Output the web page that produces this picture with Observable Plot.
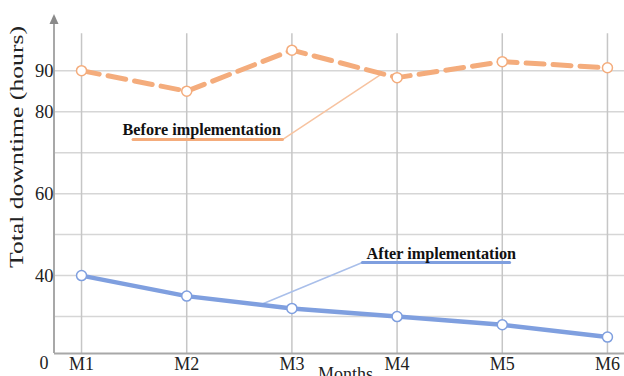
<!DOCTYPE html>
<html>
<head>
<meta charset="utf-8">
<script src="https://cdn.jsdelivr.net/npm/d3@7"></script>
<script src="https://cdn.jsdelivr.net/npm/@observablehq/plot@0.6"></script>
<style>
  html, body { margin: 0; padding: 0; background: #fff; }
  #chart svg { display: block; }
</style>
</head>
<body>
<div id="chart"></div>
<script>
// ---- data ----
const months = ["M1", "M2", "M3", "M4", "M5", "M6"];
const monthIndex = [1, 2, 3, 4, 5, 6];
const before = [90, 85, 95, 88.3, 92.2, 90.7];
const after = [40, 35, 32, 30, 28, 25];
const yTickValues = [40, 60, 80, 90];
const gridValues = [30, 40, 50, 60, 70, 80, 90];
const baselineLabel = "0";
const yTitle = "Total downtime (hours)";
const xTitle = "Months";
const yDomain = [21, 103.7];
const xDomain = [0.743, 6.162];
const gridTop = 99;

// annotations (data units)
const annLabels = ["Before implementation", "After implementation"];
const annTextX = [1.39, 3.71];
const annTextY = [75.6, 45.4];
const beforeUnderline = [[1.49, 73.2], [2.91, 73.2]];
const beforeLeader = [[2.91, 73.2], [3.84, 89.0]];
const afterUnderline = [[3.67, 43.2], [5.07, 43.2]];
const afterLeader = [[3.67, 43.2], [2.73, 33.2]];

const orange = "#f4ac7c";
const orangeLight = "#f7c3a0";
const blue = "#7f9fdf";
const blueLight = "#a9bfea";

const table = monthIndex.map((i, k) => ({i, month: months[k], before: before[k], after: after[k]}));
const annTable = annLabels.map((t, k) => ({t, x: annTextX[k], y: annTextY[k]}));

function axisLine(index, scales, values, dimensions) {
  const {marginLeft, marginTop, marginBottom, height} = dimensions;
  const g = d3.create("svg:g");
  const yb = height - marginBottom;
  g.append("line").attr("x1", marginLeft).attr("x2", marginLeft)
    .attr("y1", yb).attr("y2", marginTop + 8)
    .attr("stroke", "#a8a8a8").attr("stroke-width", 2);
  g.append("path")
    .attr("d", `M${marginLeft},${marginTop} L${marginLeft - 4.5},${marginTop + 10} L${marginLeft + 4.5},${marginTop + 10} Z`)
    .attr("fill", "#8a8a8a");
  return g.node();
}

const chart = Plot.plot({
  width: 624,
  height: 376,
  marginLeft: 54,
  marginRight: 0,
  marginTop: 14,
  marginBottom: 23,
  style: {fontFamily: "Liberation Serif", fontSize: "18px", color: "#222", background: "#fff", overflow: "visible"},
  x: {type: "linear", domain: xDomain},
  y: {domain: yDomain},
  marks: [
    Plot.ruleY(gridValues, {stroke: "#d6d6d6", strokeWidth: 1.5}),
    Plot.ruleX(monthIndex, {y1: yDomain[0], y2: gridTop, stroke: "#c6c6c6", strokeWidth: 1.5}),
    Plot.ruleY([yDomain[0]], {stroke: "#a8a8a8", strokeWidth: 2}),
    axisLine,
    Plot.axisX({ticks: monthIndex, tickFormat: i => months[i - 1], tickSize: 0, tickPadding: 4, label: null, fontSize: 18, fill: "#222"}),
    Plot.axisY({ticks: yTickValues, tickSize: 0, tickPadding: 1, label: null, fontSize: 18.5, fill: "#222"}),
    Plot.text([baselineLabel], {frameAnchor: "bottom-left", text: d => d, textAnchor: "end", lineAnchor: "middle", dx: -6, dy: 10, fontSize: 18, fill: "#222"}),
    Plot.text([yTitle], {frameAnchor: "left", text: d => d, rotate: -90, textAnchor: "middle", lineAnchor: "middle", dx: -37, dy: -37, fontSize: 18, fill: "#222", className: "ytitle"}),
    Plot.text([xTitle], {frameAnchor: "bottom", text: d => d, lineAnchor: "middle", dx: 6, dy: 21, fontSize: 18, fill: "#222"}),
    // annotations
    Plot.line(beforeLeader, {x: d => d[0], y: d => d[1], stroke: orangeLight, strokeWidth: 1.5}),
    Plot.line(beforeUnderline, {x: d => d[0], y: d => d[1], stroke: orange, strokeWidth: 3}),
    Plot.line(afterLeader, {x: d => d[0], y: d => d[1], stroke: blueLight, strokeWidth: 1.5}),
    Plot.line(afterUnderline, {x: d => d[0], y: d => d[1], stroke: blue, strokeWidth: 3}),
    Plot.text(annTable, {x: "x", y: "y", text: "t", textAnchor: "start", fontWeight: "bold", fontSize: 16.2, fill: "#111"}),
    // series
    Plot.line(table, {x: "i", y: "before", stroke: orange, strokeWidth: 5, strokeDasharray: "18,9"}),
    Plot.line(table, {x: "i", y: "after", stroke: blue, strokeWidth: 4.5}),
    Plot.dot(table, {x: "i", y: "before", r: 5, fill: "white", stroke: orange, strokeWidth: 1.5}),
    Plot.dot(table, {x: "i", y: "after", r: 5, fill: "white", stroke: blue, strokeWidth: 1.5})
  ]
});
// stretch the y title horizontally like the reference
d3.select(chart).selectAll("text").filter(function() { return this.textContent === yTitle; })
  .attr("textLength", 242).attr("lengthAdjust", "spacingAndGlyphs");
document.getElementById("chart").append(chart);
</script>
</body>
</html>
